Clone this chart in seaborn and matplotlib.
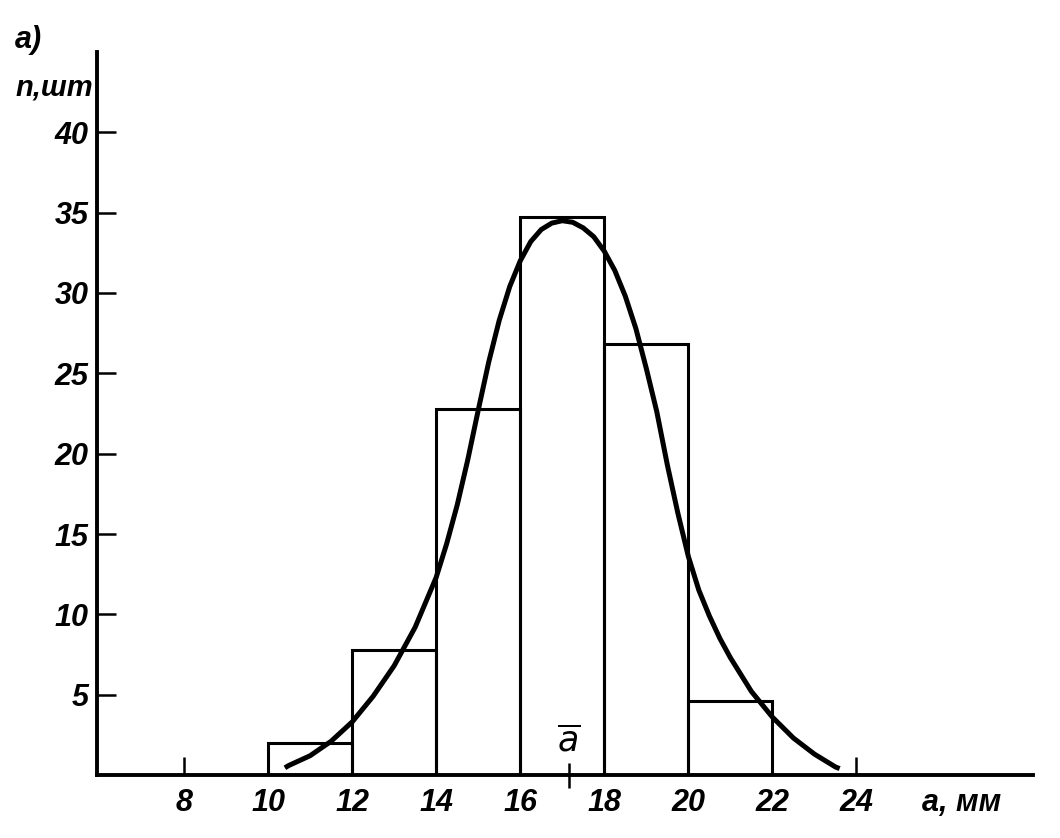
import matplotlib
matplotlib.use("Agg")
import matplotlib.pyplot as plt
import seaborn as sns

# ---- data ----
bin_edges = [10, 12, 14, 16, 18, 20, 22]
bin_centers = [11, 13, 15, 17, 19, 21]
counts = [2.0, 7.8, 22.8, 34.7, 26.8, 4.6]

curve_x = [10.4, 10.5, 11.0, 11.5, 12.0, 12.5, 13.0, 13.5, 14.0, 14.25, 14.5, 14.75,
           15.0, 15.25, 15.5, 15.75, 16.0, 16.25, 16.5, 16.75, 17.0, 17.25, 17.5,
           17.75, 18.0, 18.25, 18.5, 18.75, 19.0, 19.25, 19.5, 19.75, 20.0, 20.25,
           20.5, 20.75, 21.0, 21.5, 22.0, 22.5, 23.0, 23.5, 23.6]
curve_y = [0.45, 0.6, 1.2, 2.1, 3.3, 4.9, 6.8, 9.2, 12.3, 14.4, 16.8, 19.6,
           22.7, 25.7, 28.3, 30.4, 32.0, 33.2, 33.95, 34.35, 34.5, 34.4, 34.05,
           33.5, 32.6, 31.4, 29.8, 27.8, 25.3, 22.6, 19.3, 16.3, 13.6, 11.5,
           9.9, 8.5, 7.3, 5.2, 3.6, 2.3, 1.3, 0.5, 0.4]

mean_a = 17.15
x_ticks = [8, 10, 12, 14, 16, 18, 20, 22, 24]
y_ticks = [5, 10, 15, 20, 25, 30, 35, 40]

# ---- style ----
sns.set_style("white")
plt.rcParams["font.family"] = ["Liberation Sans", "DejaVu Sans"]

W, H = 1060, 838
fig = plt.figure(figsize=(W / 100, H / 100), dpi=100)
ax = fig.add_axes([97 / W, 63 / H, (1033 - 97) / W, (775 - 52) / H])

sns.histplot(x=bin_centers, weights=counts, bins=bin_edges, fill=False,
             element="bars", color="black", linewidth=2.2, ax=ax)
sns.lineplot(x=curve_x, y=curve_y, color="black", linewidth=3.6, ax=ax,
             solid_capstyle="butt", solid_joinstyle="round")

ax.set_xlim(5.93, 28.2)
ax.set_ylim(0, 45.0)
ax.set_xlabel("")
ax.set_ylabel("")

for s in ["top", "right"]:
    ax.spines[s].set_visible(False)
for s in ["left", "bottom"]:
    ax.spines[s].set_linewidth(2.8)
    ax.spines[s].set_color("black")

ax.set_xticks(x_ticks)
ax.set_yticks(y_ticks)
ax.tick_params(axis="both", which="both", bottom=True, left=True, top=False,
               right=False)
ax.tick_params(axis="both", which="major", direction="in", color="black",
               width=1.8, labelsize=22, labelcolor="black")
ax.tick_params(axis="y", length=14, pad=6)
ax.tick_params(axis="x", length=13, pad=9)

# mean tick crossing the axis
ax.set_xticks([mean_a], minor=True)
ax.tick_params(axis="x", which="minor", direction="inout", length=18, width=1.8,
               color="black")

for lbl in ax.get_xticklabels() + ax.get_yticklabels():
    lbl.set_fontstyle("italic")
    lbl.set_fontweight("bold")

ax.annotate(r"$\overline{a}$", xy=(mean_a, 0), xycoords=("data", "axes fraction"),
            xytext=(0, 12), textcoords="offset points", ha="center", va="bottom",
            fontsize=25, color="black")

ax.annotate("a, мм", xy=(26.5, 0), xycoords=("data", "axes fraction"),
            xytext=(0, -9), textcoords="offset points", ha="center", va="top",
            fontsize=22, fontstyle="italic", fontweight="bold", color="black",
            annotation_clip=False)

fig.text(93 / W, 1 - 87 / H, "n,шт", ha="right", va="center", fontsize=21,
         fontstyle="italic", fontweight="bold", color="black")
fig.text(15 / W, 1 - 40 / H, "а)", ha="left", va="center", fontsize=22,
         fontstyle="italic", fontweight="bold", color="black")

fig.savefig("out.png", dpi=100, facecolor="white")
